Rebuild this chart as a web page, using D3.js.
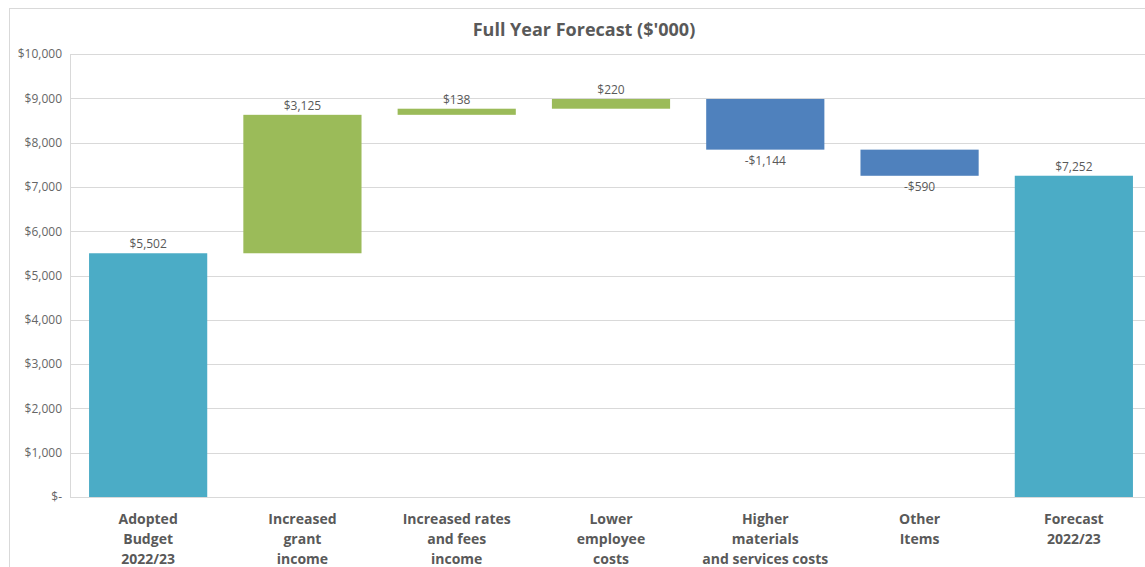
<!DOCTYPE html>
<html><head><meta charset="utf-8">
<script src="https://cdn.jsdelivr.net/npm/d3@7"></script>
<style>body{margin:0;background:#fff;font-family:"Open Sans","Noto Sans",sans-serif}</style>
</head><body><svg id="c" width="1145" height="567"></svg>
<script>
const categories = [["Adopted","Budget","2022/23"],["Increased","grant","income"],["Increased rates","and fees","income"],["Lower","employee","costs"],["Higher","materials","and services costs"],["Other","Items"],["Forecast","2022/23"]];
const values = [5502, 3125, 138, 220, -1144, -590, 7252];
const kinds = ["total","delta","delta","delta","delta","delta","total"];
const yTicks = [0,1000,2000,3000,4000,5000,6000,7000,8000,9000,10000];
const title = "Full Year Forecast ($'000)";
const colors = {total:"#4BACC6", up:"#9BBB59", down:"#4F81BD"};

const svg = d3.select("#c");
svg.append("rect").attr("x",9.5).attr("y",8.5).attr("width",1145).attr("height",570).attr("fill","none").attr("stroke","#d9d9d9");
const x = d3.scaleBand().domain(d3.range(values.length)).range([71,1151]).paddingInner(0.234).paddingOuter(0.117);
const y = d3.scaleLinear().domain([0,10000]).range([497,54]);

// grid
svg.append("g").selectAll("line").data(yTicks).join("line")
  .attr("x1",70).attr("x2",1145).attr("y1",d=>Math.round(y(d))+0.5).attr("y2",d=>Math.round(y(d))+0.5)
  .attr("stroke","#d9d9d9");
svg.append("line").attr("x1",70.5).attr("x2",70.5).attr("y1",54).attr("y2",497).attr("stroke","#d9d9d9");

const fmt = d3.format(",");
const yAxis = d3.axisLeft(y).tickValues(yTicks).tickSize(0).tickPadding(8).tickFormat(d=> d===0?"$-":"$"+fmt(d));
const ga = svg.append("g").attr("transform","translate(70,0)").call(yAxis);
ga.select(".domain").remove();
ga.selectAll("text").attr("font-size",12).attr("fill","#666").attr("font-family","'Open Sans',sans-serif");

// waterfall
let run = 0;
const bars = values.map((v,i)=>{
  let lo, hi, kind;
  if (kinds[i]==="total"){ lo=0; hi=v; run=v; kind="total"; }
  else { const s=run; run+=v; lo=Math.min(s,run); hi=Math.max(s,run); kind=v>=0?"up":"down"; }
  return {i,v,lo,hi,kind};
});
svg.append("g").selectAll("rect").data(bars).join("rect")
  .attr("x",d=>x(d.i)).attr("width",x.bandwidth())
  .attr("y",d=>y(d.hi)).attr("height",d=>y(d.lo)-y(d.hi))
  .attr("fill",d=>colors[d.kind]);

const lab = v => (v<0?"-$":"$")+fmt(Math.abs(v));
svg.append("g").selectAll("text").data(bars).join("text")
  .attr("x",d=>x(d.i)+x.bandwidth()/2)
  .attr("y",d=>d.kind==="down"? y(d.lo)+15 : y(d.hi)-5)
  .attr("text-anchor","middle").attr("font-size",12).attr("fill","#595959")
  .text(d=>lab(d.v));

// category labels
const cg = svg.append("g").selectAll("text").data(categories).join("text")
  .attr("x",(d,i)=>x(i)+x.bandwidth()/2).attr("y",524)
  .attr("text-anchor","middle").attr("font-size",14).attr("font-weight","bold").attr("fill","#595959");
cg.selectAll("tspan").data(d=>d).join("tspan")
  .attr("x",function(){return this.parentNode.getAttribute("x");})
  .attr("dy",(d,j)=>j===0?0:20).text(d=>d);

svg.append("text").attr("x",584).attr("y",36).attr("text-anchor","middle")
  .attr("font-size",18).attr("font-weight","bold").attr("fill","#595959").text(title);
</script></body></html>
